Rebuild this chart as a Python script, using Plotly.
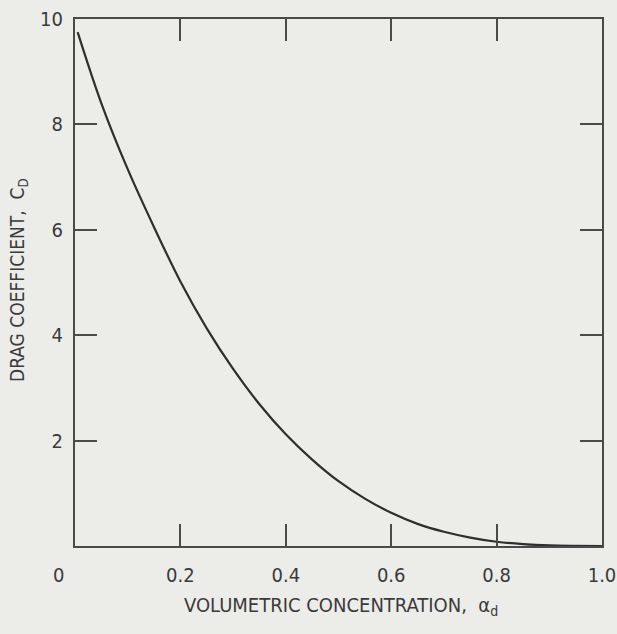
import plotly.graph_objects as go

# Values
alpha_d = [0.005, 0.05, 0.10, 0.15, 0.20, 0.25, 0.30, 0.35, 0.40, 0.45, 0.50,
           0.55, 0.60, 0.65, 0.70, 0.75, 0.80, 0.85, 0.90, 0.95, 1.00]
c_d = [9.75, 8.40, 7.15, 6.05, 5.02, 4.13, 3.36, 2.69, 2.12, 1.64, 1.23,
       0.90, 0.63, 0.42, 0.27, 0.16, 0.08, 0.035, 0.01, 0.002, 0.0]

x_tickvals = [0.2, 0.4, 0.6, 0.8, 1.0]
x_ticktext = ["0.2", "0.4", "0.6", "0.8", "1.0"]
y_tickvals = [2, 4, 6, 8, 10]
y_ticktext = ["2", "4", "6", "8", "10"]

BG = "#ecece9"
AX = "#4a4a4a"
TXT = "#3a3a3a"
FONT = "DejaVu Sans Condensed, DejaVu Sans, sans-serif"

W, H = 617, 634
L, R, T, B = 75, 15, 19, 88
pw, ph = W - L - R, H - T - B

fig = go.Figure()
fig.add_trace(go.Scatter(x=alpha_d, y=c_d, mode="lines",
                         line=dict(color="#2e2e2e", width=2.2, shape="spline"),
                         hoverinfo="skip", showlegend=False))

axis_common = dict(showgrid=False, zeroline=False, showline=True, linecolor=AX,
                   linewidth=2, mirror="ticks", ticks="inside", ticklen=22,
                   tickwidth=1.6, tickcolor=AX, automargin=False,
                   tickfont=dict(family=FONT, size=20, color=TXT))

fig.update_xaxes(range=[0, 1.0], tickvals=x_tickvals, ticktext=x_ticktext,
                 ticklabelstandoff=10, **axis_common)
fig.update_yaxes(range=[0, 10], tickvals=y_tickvals, ticktext=y_ticktext,
                 ticklabelstandoff=6, **axis_common)

def px_to_paper(px, py):
    return (px - L) / pw, (H - B - py) / ph

ax0, ay0 = px_to_paper(58, 575)
axt, ayt = px_to_paper(341, 606)
ayx, ayy = px_to_paper(18, 280)

fig.update_layout(
    width=W, height=H,
    margin=dict(l=L, r=R, t=T, b=B, autoexpand=False),
    paper_bgcolor=BG, plot_bgcolor=BG,
    annotations=[
        dict(text="0", x=ax0, y=ay0, xref="paper", yref="paper",
             showarrow=False, font=dict(family=FONT, size=20, color=TXT),
             xanchor="center", yanchor="middle"),
        dict(text="VOLUMETRIC CONCENTRATION,  α<sub>d</sub>", x=axt, y=ayt,
             xref="paper", yref="paper", showarrow=False,
             font=dict(family=FONT, size=20, color=TXT),
             xanchor="center", yanchor="middle"),
        dict(text="DRAG COEFFICIENT,  C<sub>D</sub>", x=ayx, y=ayy,
             xref="paper", yref="paper", showarrow=False, textangle=-90,
             font=dict(family=FONT, size=19, color=TXT),
             xanchor="center", yanchor="middle"),
    ],
)

fig.write_html("out.html")
